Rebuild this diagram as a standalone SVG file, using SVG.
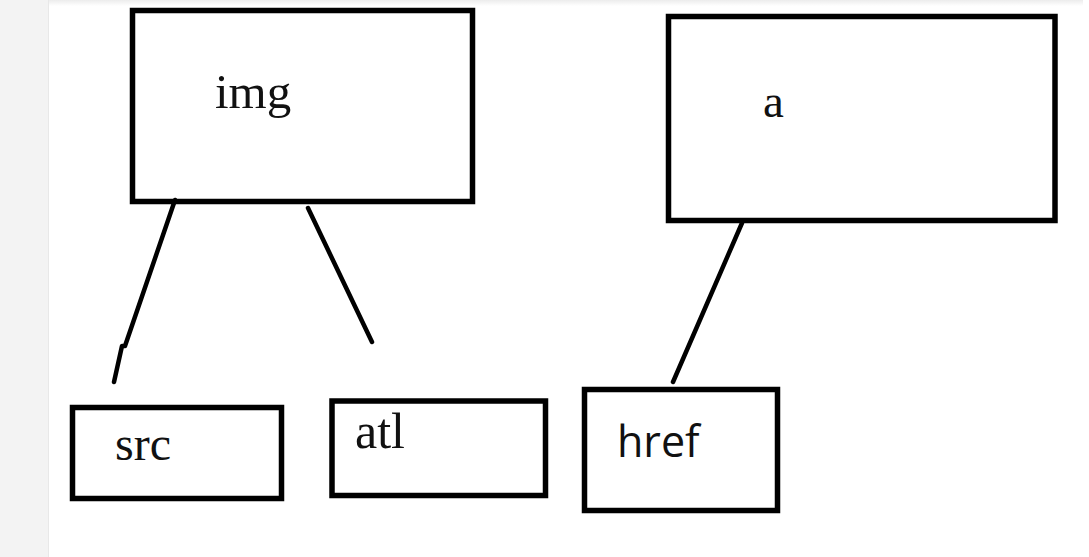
<svg xmlns="http://www.w3.org/2000/svg" width="1089" height="557" viewBox="0 0 1089 557">
<defs>
<linearGradient id="shadow" x1="0" y1="0" x2="0" y2="1">
<stop offset="0" stop-color="#ececec"/>
<stop offset="1" stop-color="#ffffff"/>
</linearGradient>
<style>
.box{fill:#ffffff;stroke:#000000;stroke-width:5.5}
.serif{font-family:"Liberation Serif","DejaVu Serif",serif;fill:#111111}
.sans{font-family:"Open Sans","Liberation Sans",sans-serif;fill:#111111}
.conn{fill:none;stroke:#000000;stroke-width:4.5;stroke-linecap:round;stroke-linejoin:round}
</style>
</defs>
<rect x="0" y="0" width="1089" height="557" fill="#ffffff"/>
<rect x="0" y="0" width="49" height="557" fill="#f3f3f3"/>
<rect x="48" y="0" width="1" height="557" fill="#e8e8e8"/>
<rect x="49" y="0" width="1034" height="6" fill="url(#shadow)"/>
<g id="node-img">
<rect class="box" x="132.5" y="10.5" width="340" height="191"/>
<text class="serif" x="215" y="108" font-size="49">img</text>
</g>
<g id="node-a">
<rect class="box" x="668.5" y="16.5" width="386.5" height="204"/>
<text class="serif" x="763" y="117" font-size="47">a</text>
</g>
<g id="node-src">
<rect class="box" x="72.5" y="407.5" width="209" height="91"/>
<text class="serif" x="115" y="460" font-size="48">src</text>
</g>
<g id="node-atl">
<rect class="box" x="332" y="401" width="213.5" height="94.5"/>
<text class="serif" x="355" y="448" font-size="50">atl</text>
</g>
<g id="node-href">
<rect class="box" x="584.5" y="389.5" width="193" height="121"/>
<text class="sans" x="617" y="457" font-size="43">href</text>
</g>
<g id="connectors">
<polyline class="conn" points="175,200 125,346 122,346 114,382"/>
<line class="conn" x1="308" y1="208" x2="372" y2="342"/>
<line class="conn" x1="742" y1="223" x2="673" y2="382"/>
</g>
</svg>
